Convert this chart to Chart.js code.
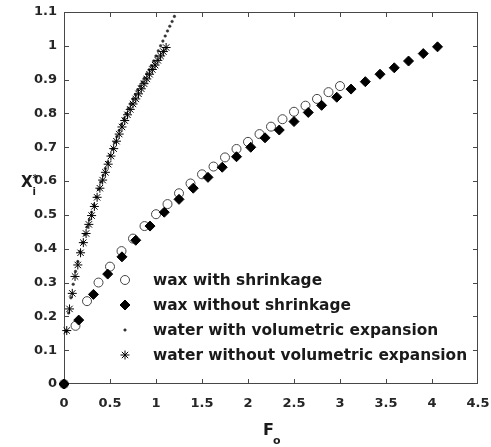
<!doctype html>
<html>
<head>
  <meta charset="utf-8">
  <script src="https://cdn.jsdelivr.net/npm/chart.js@4.4.1/dist/chart.umd.min.js"></script>
  <style>
    html, body { margin: 0; padding: 0; background: #fff; }
  </style>
</head>
<body>
  <canvas id="myChart" width="491" height="447"></canvas>
  <script>
    // axis ticks
    const xTicks = [0, 0.5, 1, 1.5, 2, 2.5, 3, 3.5, 4, 4.5];
    const yTicks = [0, 0.1, 0.2, 0.3, 0.4, 0.5, 0.6, 0.7, 0.8, 0.9, 1, 1.1];

    const seriesNames = [
      'wax with shrinkage',
      'wax without shrinkage',
      'water with volumetric expansion',
      'water without volumetric expansion'
    ];

    // wax with shrinkage (open circles)
    const waxShrinkX = [0, 0.125, 0.25, 0.375, 0.5, 0.625, 0.75, 0.875, 1.0, 1.125, 1.25, 1.375, 1.5,
      1.625, 1.75, 1.875, 2.0, 2.125, 2.25, 2.375, 2.5, 2.625, 2.75, 2.875, 3.0];
    const waxShrinkY = [0, 0.172, 0.245, 0.300, 0.347, 0.393, 0.430, 0.467, 0.502, 0.532, 0.564, 0.593, 0.620,
      0.643, 0.670, 0.695, 0.716, 0.739, 0.761, 0.783, 0.805, 0.823, 0.843, 0.863, 0.881];

    // wax without shrinkage (diamonds)
    const waxNoShrinkX = [0, 0.16, 0.32, 0.475, 0.63, 0.78, 0.935, 1.09, 1.25, 1.405, 1.565, 1.72, 1.875, 2.03,
      2.185, 2.34, 2.5, 2.655, 2.8, 2.965, 3.12, 3.275, 3.435, 3.59, 3.745, 3.905, 4.06];
    const waxNoShrinkY = [0, 0.189, 0.265, 0.325, 0.376, 0.425, 0.467, 0.508, 0.546, 0.579, 0.611, 0.641, 0.672, 0.700,
      0.728, 0.751, 0.776, 0.803, 0.824, 0.848, 0.872, 0.894, 0.916, 0.935, 0.955, 0.977, 0.997];

    // water with volumetric expansion (dots)
    const waterExpX = [0, 0.025, 0.05, 0.075, 0.1, 0.125, 0.15, 0.175, 0.2, 0.225, 0.25, 0.275, 0.3, 0.325, 0.35,
      0.375, 0.4, 0.425, 0.45, 0.475, 0.5, 0.525, 0.55, 0.575, 0.6, 0.625, 0.65, 0.675, 0.7, 0.725, 0.75, 0.775,
      0.8, 0.825, 0.85, 0.875, 0.9, 0.925, 0.95, 0.975, 1.0, 1.025, 1.05, 1.075, 1.1, 1.125, 1.15, 1.175, 1.2];
    const waterExpY = [0, 0.155, 0.21, 0.255, 0.295, 0.333, 0.362, 0.392, 0.418, 0.442, 0.464, 0.486, 0.508, 0.530, 0.553,
      0.576, 0.597, 0.617, 0.637, 0.656, 0.676, 0.695, 0.714, 0.732, 0.750, 0.768, 0.785, 0.800, 0.815, 0.829, 0.843, 0.856,
      0.869, 0.881, 0.893, 0.905, 0.917, 0.929, 0.941, 0.955, 0.970, 0.985, 1.000, 1.014, 1.029, 1.044, 1.058, 1.072, 1.087];

    // water without volumetric expansion (asterisks)
    const waterNoExpX = [0, 0.03, 0.06, 0.09, 0.12, 0.15, 0.18, 0.21, 0.24, 0.27, 0.3, 0.33, 0.36, 0.39, 0.42, 0.45,
      0.48, 0.51, 0.54, 0.57, 0.6, 0.63, 0.66, 0.69, 0.72, 0.75, 0.78, 0.81, 0.84, 0.87, 0.9, 0.93, 0.96, 0.99,
      1.02, 1.05, 1.08, 1.11];
    const waterNoExpY = [0, 0.158, 0.222, 0.268, 0.318, 0.352, 0.388, 0.418, 0.445, 0.472, 0.498, 0.525, 0.552, 0.579, 0.603, 0.626,
      0.650, 0.674, 0.696, 0.718, 0.739, 0.760, 0.779, 0.796, 0.812, 0.828, 0.843, 0.858, 0.873, 0.888, 0.902, 0.916, 0.930, 0.943,
      0.957, 0.970, 0.983, 0.995];

    const toPoints = (xs, ys) => xs.map((x, i) => ({ x, y: ys[i] }));

    const FONT = 'DejaVu Sans';
    const AXIS_COLOR = '#474747';
    const TEXT_COLOR = '#262626';

    const markers = [
      { pointStyle: 'circle', radius: 4.5, fill: 'rgba(0,0,0,0)', stroke: '#444', width: 1 },
      { pointStyle: 'rectRot', radius: 5, fill: '#000', stroke: '#000', width: 1 },
      { pointStyle: 'circle', radius: 1.3, fill: '#333', stroke: '#333', width: 0.5 },
      { pointStyle: 'star', radius: 4.5, fill: '#000', stroke: '#000', width: 1 }
    ];

    // box round the plot with inward ticks (drawn as 1px rects so they stay crisp)
    function drawBox(chart) {
      const ctx = chart.ctx;
      const a = chart.chartArea;
      const xs = chart.scales.x, ys = chart.scales.y;
      const L = Math.round(a.left), R = Math.round(a.right) - 1;
      const T = Math.round(a.top), B = Math.round(a.bottom) - 1;
      ctx.save();
      ctx.fillStyle = AXIS_COLOR;
      ctx.fillRect(L, T, R - L + 1, 1);
      ctx.fillRect(L, B, R - L + 1, 1);
      ctx.fillRect(L, T, 1, B - T + 1);
      ctx.fillRect(R, T, 1, B - T + 1);
      xTicks.forEach(v => {
        const px = Math.min(Math.round(xs.getPixelForValue(v)), R);
        ctx.fillRect(px, B - 4, 1, 4);
        ctx.fillRect(px, T + 1, 1, 4);
      });
      yTicks.forEach(v => {
        const py = Math.min(Math.round(ys.getPixelForValue(v)), B);
        ctx.fillRect(L + 1, py, 4, 1);
        ctx.fillRect(R - 4, py, 4, 1);
      });
      ctx.restore();
    }

    // titles and legend
    const boxPlugin = {
      id: 'box',
      beforeDatasetsDraw(chart) {
        drawBox(chart);
      },
      afterDraw(chart) {
        const ctx = chart.ctx;
        ctx.save();
        ctx.fillStyle = '#1a1a1a';
        ctx.textBaseline = 'alphabetic';
        ctx.textAlign = 'left';
        // y title X_i^*
        ctx.font = 'bold 15px "' + FONT + '"';
        ctx.fillText('X', 21, 187);
        ctx.font = 'bold 10px "' + FONT + '"';
        ctx.fillText('i', 32.5, 195);
        ctx.fillText('*', 32.5, 182);
        // x title F_o
        ctx.font = 'bold 16px "' + FONT + '"';
        ctx.fillText('F', 263, 435);
        ctx.font = 'bold 11px "' + FONT + '"';
        ctx.fillText('o', 273, 444);

        // legend
        const rows = [280, 305, 330, 355];
        ctx.textBaseline = 'middle';
        seriesNames.forEach((name, i) => {
          const m = markers[i];
          ctx.fillStyle = m.fill;
          ctx.strokeStyle = m.stroke;
          ctx.lineWidth = m.width;
          Chart.helpers.drawPoint(ctx, { pointStyle: m.pointStyle, radius: m.radius, rotation: 0, borderWidth: m.width }, 125, rows[i]);
          ctx.fillStyle = '#1a1a1a';
          ctx.font = 'bold 15.4px "' + FONT + '"';
          ctx.fillText(name, 153, rows[i] + 1);
        });
        ctx.restore();
      }
    };

    const allX = [waxShrinkX, waxNoShrinkX, waterExpX, waterNoExpX];
    const allY = [waxShrinkY, waxNoShrinkY, waterExpY, waterNoExpY];
    const drawOrder = [4, 3, 2, 1];

    const datasets = seriesNames.map((name, i) => ({
      label: name,
      data: toPoints(allX[i], allY[i]),
      showLine: false,
      pointStyle: markers[i].pointStyle,
      pointRadius: markers[i].radius,
      pointHoverRadius: markers[i].radius,
      pointBackgroundColor: markers[i].fill,
      pointBorderColor: markers[i].stroke,
      pointBorderWidth: markers[i].width,
      order: drawOrder[i],
      clip: false
    }));

    const tickFont = { family: FONT, weight: 'bold', size: 13 };

    new Chart(document.getElementById('myChart').getContext('2d'), {
      type: 'scatter',
      data: { datasets },
      options: {
        responsive: false,
        animation: false,
        events: [],
        layout: { padding: { left: 0, right: 13, top: 12, bottom: 0 } },
        plugins: { legend: { display: false }, tooltip: { enabled: false } },
        scales: {
          x: {
            type: 'linear',
            min: 0, max: 4.5,
            grid: { display: false, drawTicks: false },
            border: { display: false },
            afterBuildTicks: s => { s.ticks = xTicks.map(v => ({ value: v })); },
            afterFit: s => { s.height = 63; s.paddingLeft = 0; s.paddingRight = 0; },
            ticks: {
              color: TEXT_COLOR, font: tickFont, padding: 12, maxRotation: 0,
              callback: v => String(v)
            }
          },
          y: {
            type: 'linear',
            min: 0, max: 1.1,
            grid: { display: false, drawTicks: false },
            border: { display: false },
            afterBuildTicks: s => { s.ticks = yTicks.map(v => ({ value: v })); },
            afterFit: s => { s.width = 64; s.paddingTop = 0; s.paddingBottom = 0; },
            ticks: {
              color: TEXT_COLOR, font: tickFont, padding: 7,
              callback: v => String(v)
            }
          }
        }
      },
      plugins: [boxPlugin]
    });
  </script>
</body>
</html>
